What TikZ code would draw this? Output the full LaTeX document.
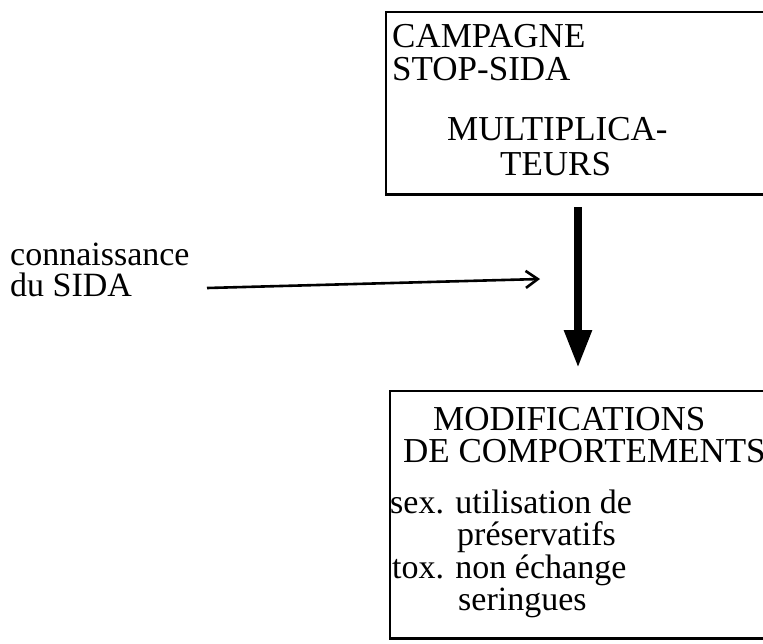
\documentclass[tikz,border=0pt]{standalone}
\usepackage{fontspec}
\setmainfont{Liberation Serif}
\usetikzlibrary{arrows.meta}
\begin{document}
\begin{tikzpicture}[x=1pt,y=-1pt,
  box/.style={draw=none, rectangle, inner sep=0pt, anchor=north west},
  boxline/.style={draw=black, line width=2.6pt, line join=miter},
  txt/.style={anchor=base west, inner sep=0pt, font=\fontsize{34}{34}\selectfont},
  bigtxt/.style={txt, font=\fontsize{35}{35}\selectfont},
  bigarrow/.style={line width=8.5pt, -{Triangle[length=38pt,width=26pt]}},
  thinarrow/.style={line width=2.6pt, -{Straight Barb[length=12pt,width=17pt]}}]
\useasboundingbox (0,0) rectangle (763,643);
\clip (0,0) rectangle (763,643);
% boxes (their right sides lie beyond the picture's edge)
\node[box, minimum width=600pt, minimum height=182pt] (top) at (386,12) {};
\node[box, minimum width=600pt, minimum height=247pt] (bot) at (390,391) {};
\draw[boxline] (top.north east) -- (top.north west) -- (top.south west) -- (top.south east);
\draw[boxline] (bot.north east) -- (bot.north west) -- (bot.south west) -- (bot.south east);
% top box text
\node[bigtxt] (t1) at (392,47) {CAMPAGNE};
\node[bigtxt] (t2) at (392,80) {STOP-SIDA};
\node[bigtxt] (t3) at (447,140) {MULTIPLICA-};
\node[bigtxt] (t4) at (500,175) {TEURS};
% bottom box text
\node[bigtxt] (b1) at (433,430) {MODIFICATIONS};
\node[bigtxt] (b2) at (403,462) {DE COMPORTEMENTS};
\node[txt] (b3) at (390,513) {sex. utilisation de};
\node[txt] (b4) at (457,545) {préservatifs};
\node[txt] (b5) at (392,578) {tox. non échange};
\node[txt] (b6) at (458,610) {seringues};
% left label
\node[txt] (c1) at (10,265) {connaissance};
\node[txt] (c2) at (10,296) {du SIDA};
% connectors
\coordinate (vx) at (578,0);
\draw[bigarrow, shorten <=13pt, shorten >=23pt] (top.south -| vx) -- (bot.north -| vx);
\coordinate (hs) at (207,288);
\coordinate (he) at (540,279);
\draw[thinarrow] (hs) -- (he);
\end{tikzpicture}
\end{document}
